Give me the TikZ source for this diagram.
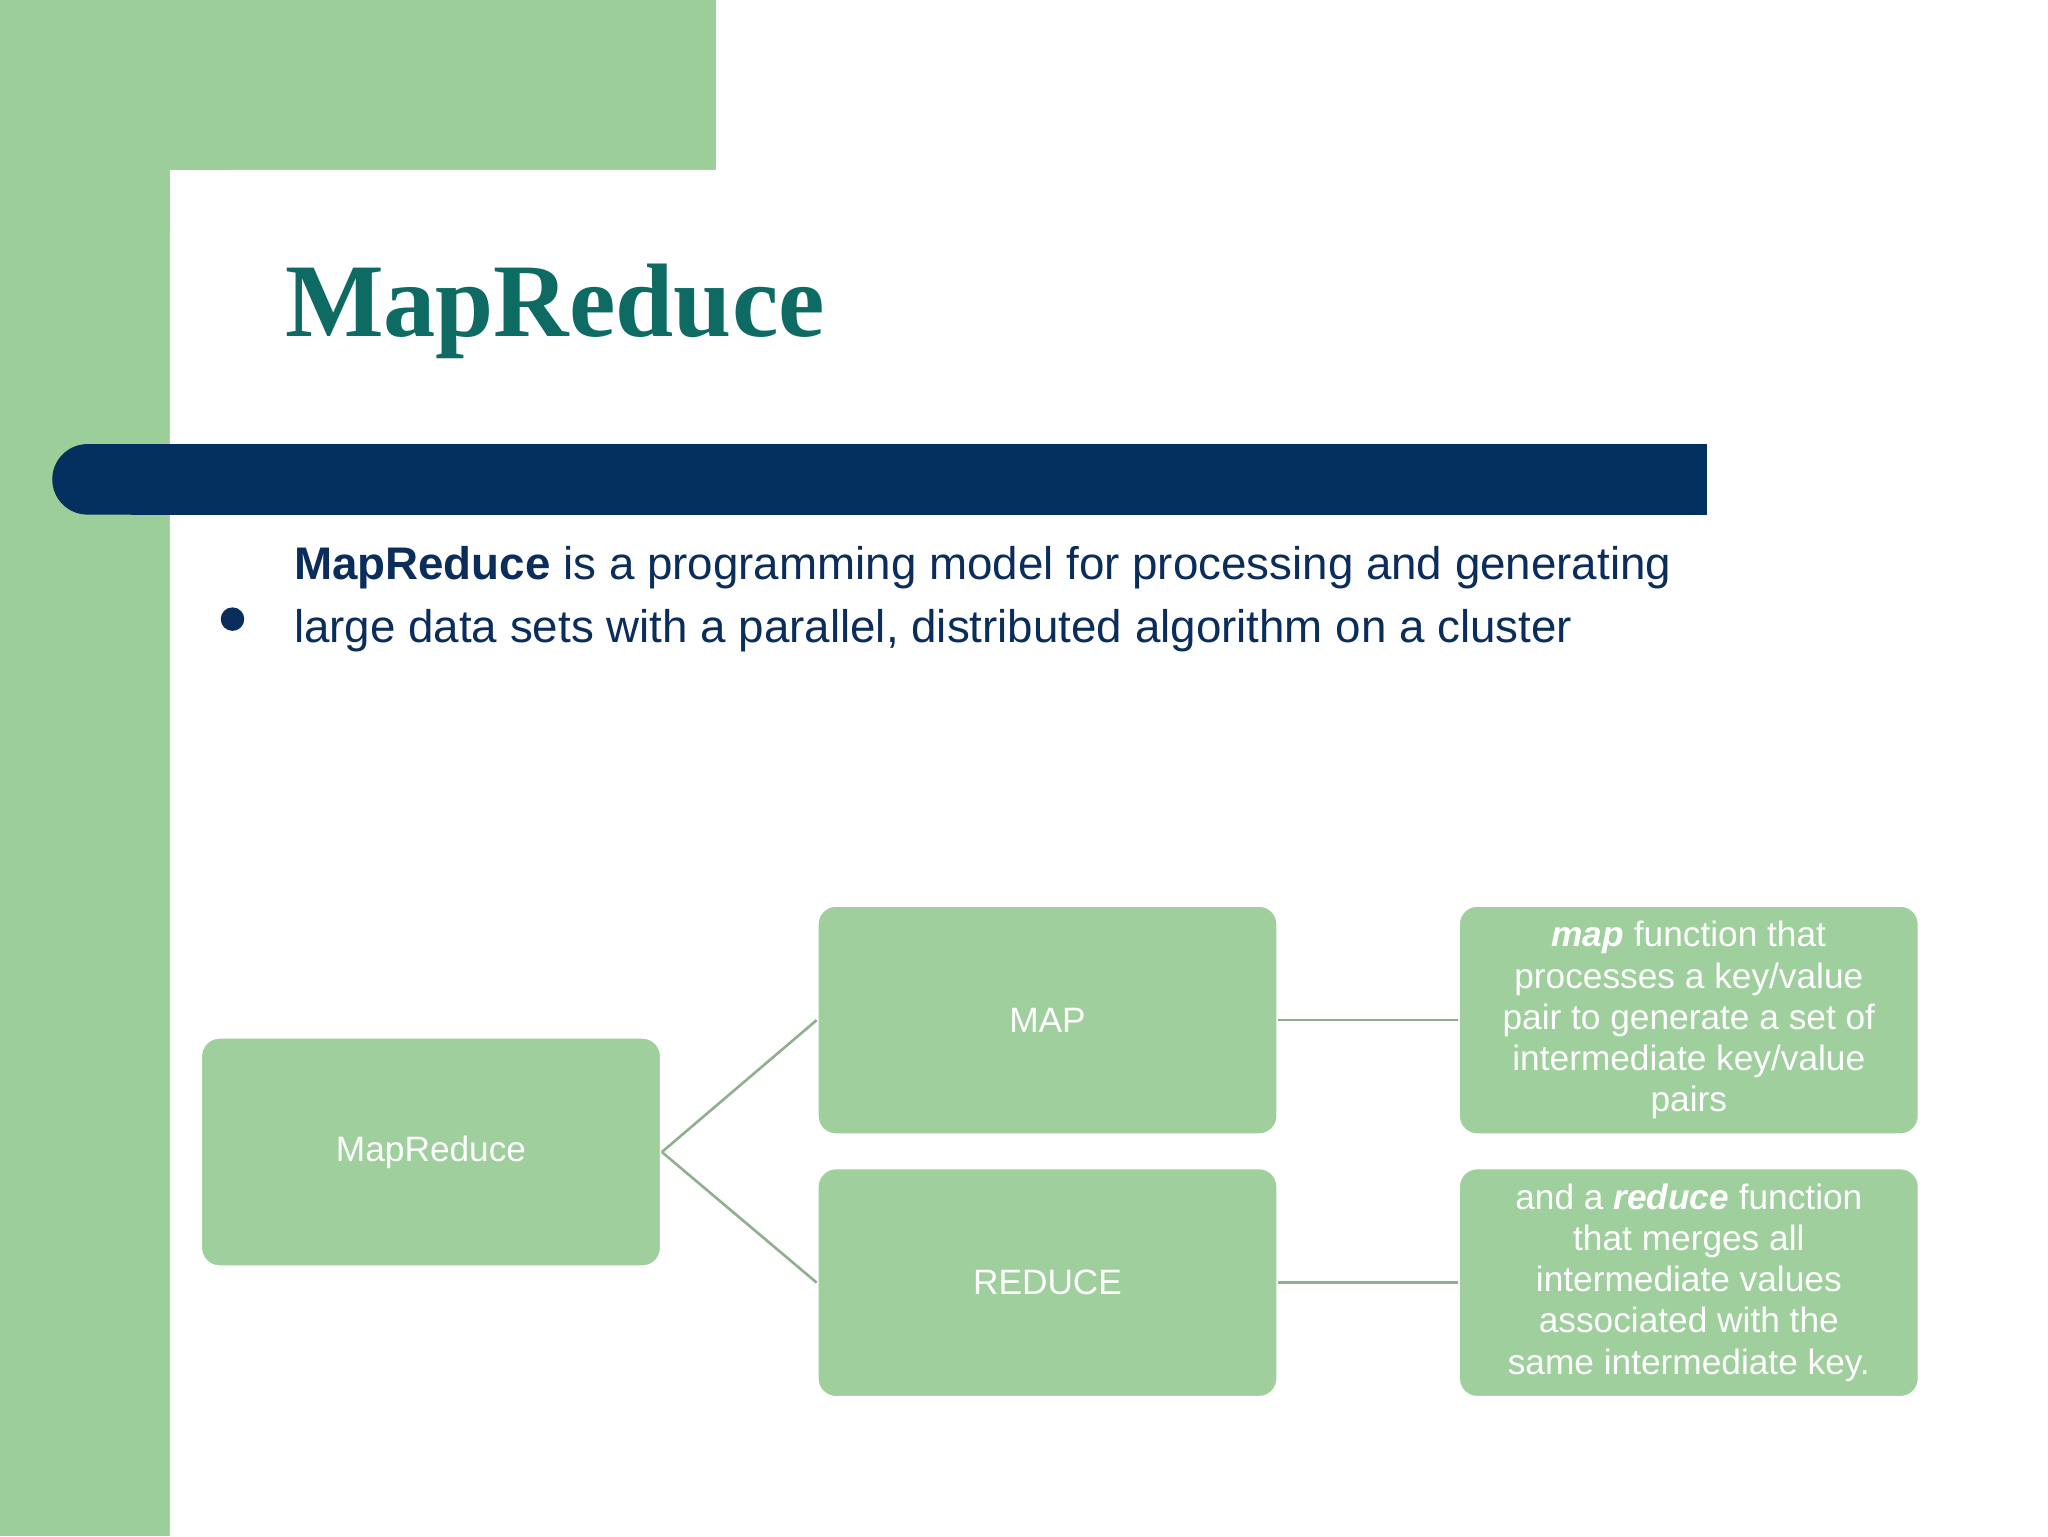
\documentclass[tikz,border=0pt]{standalone}
\usepackage{fontspec}
\setmainfont{Liberation Sans}
\newfontfamily\serifbold{Liberation Serif}
\definecolor{bggreen}{HTML}{9BCE98}
\definecolor{boxgreen}{HTML}{9ECF9C}
\definecolor{navy}{HTML}{04305F}
\definecolor{teal}{HTML}{0E6B63}
\definecolor{txt}{HTML}{0B2D5B}
\definecolor{conn}{HTML}{8FB08E}
\begin{document}
\begin{tikzpicture}[x=1pt,y=-1pt,
  gbox/.style={draw=white,line width=1.5pt,fill=boxgreen,rounded corners=14pt,text=white,font=\fontsize{27}{32}\selectfont,minimum width=352pt,minimum height=175pt,align=center,inner sep=6pt},
  conline/.style={draw=conn,line width=2pt}]
\useasboundingbox (0,0) rectangle (1568,1176);
\fill[white] (0,0) rectangle (1568,1176);
\fill[bggreen] (0,0) rectangle (548,130);
\fill[bggreen] (0,0) rectangle (130,1176);
\fill[white,rounded corners=50pt] (130,130) rectangle (1620,1230);
\node[anchor=base west,inner sep=0,text=teal,font=\serifbold\bfseries\fontsize{80}{90}\selectfont] (title) at (218,258) {MapReduce};
\fill[navy,rounded corners=27pt] (40,340) rectangle (200,394);
\fill[navy] (100,340) rectangle (1307,394);
\fill[txt] (178,474) circle (9pt);
\node[anchor=base west,inner sep=0,text=txt,font=\fontsize{35}{48}\selectfont,align=left] (bullet) at (225,492) {\textbf{MapReduce} is a programming model for processing and generating\\large data sets with a parallel, distributed algorithm on a cluster};
\node[gbox] (mr) at (330,882) {MapReduce};
\node[gbox] (map) at (802,781) {MAP};
\node[gbox] (red) at (802,982) {REDUCE};
\node[gbox,inner sep=2pt,font=\fontsize{27}{31.5}\selectfont] (mapd) at (1293,781) {\textbf{\textit{map}} function that\\processes a key/value\\pair to generate a set of\\intermediate key/value\\pairs};
\node[gbox,inner sep=2pt,font=\fontsize{27}{31.5}\selectfont] (redd) at (1293,982) {and a \textbf{\textit{reduce}} function\\that merges all\\intermediate values\\associated with the\\same intermediate key.};
\draw[conline] (mr.east) -- (map.west);
\draw[conline] (mr.east) -- (red.west);
\draw[conline] (map.east) -- (mapd.west);
\draw[conline] (red.east) -- (redd.west);
\end{tikzpicture}
\end{document}
